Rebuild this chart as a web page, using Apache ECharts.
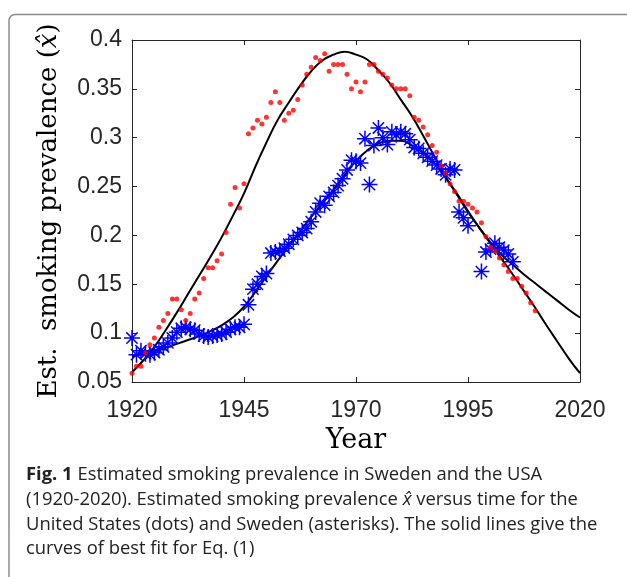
<!DOCTYPE html>
<html><head><meta charset="utf-8">
<script src="https://cdn.jsdelivr.net/npm/echarts@6/dist/echarts.min.js"></script>
<style>html,body{margin:0;padding:0;background:#fff}#c{width:627px;height:577px}</style>
</head><body><div id="c"></div>
<script>
// USA (dots)
const usaYears = [1920,1921,1922,1923,1924,1925,1926,1927,1928,1929,1930,1931,1932,1933,1934,1935,1936,1937,1938,1939,
  1940,1941,1942,1943,1944,1945,1946,1947,1948,1949,1950,1951,1952,1953,1954,1955,1956,1957,1958,1959,
  1960,1961,1962,1963,1964,1965,1966,1967,1968,1969,1970,1971,1972,1973,1974,1975,1976,1977,1978,1979,
  1980,1981,1982,1983,1984,1985,1986,1987,1988,1989,1990,1991,1992,1993,1994,1995,1996,1997,1998,1999,
  2000,2001,2002,2003,2004,2005,2006,2007,2008,2009,2010];
const usaValues = [0.059,0.066,0.066,0.080,0.088,0.095,0.106,0.113,0.120,0.135,0.135,0.124,0.113,0.120,0.135,0.141,0.156,0.167,0.167,0.174,
  0.181,0.203,0.232,0.249,0.228,0.253,0.304,0.310,0.318,0.314,0.321,0.336,0.347,0.336,0.318,0.325,0.328,0.339,0.354,0.365,
  0.372,0.382,0.379,0.386,0.368,0.375,0.375,0.375,0.365,0.350,0.357,0.347,0.357,0.375,0.375,0.368,0.365,0.361,0.354,0.350,
  0.350,0.350,0.343,0.321,0.318,0.311,0.303,0.292,0.285,0.271,0.264,0.253,0.245,0.235,0.235,0.232,0.228,0.224,0.213,0.199,
  0.188,0.184,0.177,0.170,0.163,0.156,0.156,0.148,0.141,0.131,0.123];
// Sweden (asterisks)
const swedenYears = [1920,1921,1922,1923,1924,1925,1926,1927,1928,1929,1930,1931,1932,1933,1934,1935,1936,1937,1938,1939,
  1940,1941,1942,1943,1944,1945,1946,1947,1948,1949,1950,1951,1952,1953,1954,1955,1956,1957,1958,1959,
  1960,1961,1962,1963,1964,1965,1966,1967,1968,1969,1970,1971,1972,1973,1974,1975,1976,1977,1978,1979,
  1980,1981,1982,1983,1984,1985,1986,1987,1988,1989,1990,1991,1992,1993,1994,1995,1998,1999,
  2000,2001,2002,2003,2004,2005];
const swedenValues = [0.095,0.078,0.082,0.079,0.078,0.080,0.083,0.086,0.090,0.095,0.101,0.105,0.106,0.104,0.103,0.099,0.097,0.096,0.097,0.098,
  0.099,0.101,0.104,0.106,0.106,0.109,0.129,0.145,0.150,0.158,0.161,0.182,0.183,0.184,0.187,0.191,0.196,0.200,0.203,0.207,
  0.214,0.224,0.233,0.231,0.240,0.244,0.251,0.258,0.267,0.277,0.276,0.274,0.299,0.252,0.292,0.310,0.300,0.293,0.306,0.303,
  0.306,0.304,0.298,0.290,0.289,0.284,0.280,0.276,0.272,0.268,0.262,0.268,0.267,0.224,0.218,0.210,0.163,0.183,
  0.186,0.192,0.188,0.185,0.181,0.173];
// Fitted curves (read every 2.5 years)
const fitYears = [1920,1922.5,1925,1927.5,1930,1932.5,1935,1937.5,1940,1942.5,1945,1947.5,1950,1952.5,1955,1957.5,1960,1962.5,1965,1967.5,
  1970,1972.5,1975,1977.5,1980,1982.5,1985,1987.5,1990,1992.5,1995,1997.5,2000,2002.5,2005,2007.5,2010,2012.5,2015,2017.5,2020];
const usaFit = [0.060,0.072,0.086,0.103,0.121,0.140,0.159,0.178,0.198,0.220,0.243,0.270,0.295,0.318,0.336,0.353,0.368,0.379,0.385,0.388,
  0.385,0.380,0.369,0.356,0.339,0.322,0.302,0.281,0.260,0.243,0.225,0.208,0.192,0.176,0.160,0.143,0.126,0.108,0.091,0.074,0.059];
const swedenFit = [0.076,0.079,0.082,0.085,0.089,0.093,0.097,0.102,0.108,0.116,0.127,0.142,0.158,0.174,0.189,0.204,0.219,0.233,0.247,0.262,
  0.276,0.287,0.294,0.297,0.297,0.292,0.285,0.274,0.259,0.242,0.224,0.208,0.193,0.180,0.170,0.160,0.151,0.142,0.133,0.124,0.116];
const xTicks = [1920,1945,1970,1995,2020];
const yTicks = [0.05,0.1,0.15,0.2,0.25,0.3,0.35,0.4];
const captionLines = [
  '{b|Fig. 1} Estimated smoking prevalence in Sweden and the USA',
  '(1920-2020). Estimated smoking prevalence {i|x\u0302} versus time for the',
  'United States (dots) and Sweden (asterisks). The solid lines give the',
  'curves of best fit for Eq. (1)'
];

const pair = (xs, ys) => xs.map((x, i) => [x, ys[i]]);
const axisColor = '#262626';
const tickFont = 'Liberation Sans, Arial, sans-serif';
const serif = 'DejaVu Serif, serif';
const capFont = 'Open Sans, sans-serif';
const capSize = 18.4;

const baseX = {
  type: 'value', min: xTicks[0], max: xTicks[xTicks.length - 1], interval: xTicks[1] - xTicks[0],
  axisLine: { show: true, onZero: false, lineStyle: { color: axisColor, width: 1 } },
  axisTick: { show: true, inside: true, length: 5, lineStyle: { color: axisColor, width: 1 } },
  splitLine: { show: false }
};
const baseY = {
  type: 'value', min: yTicks[0], max: yTicks[yTicks.length - 1], interval: 0.05,
  axisLine: { show: true, onZero: false, lineStyle: { color: axisColor, width: 1 } },
  axisTick: { show: true, inside: true, length: 5, lineStyle: { color: axisColor, width: 1 } },
  splitLine: { show: false }
};

const asterisk = 'path://M0,10L20,10M10,0L10,20M2.93,2.93L17.07,17.07M17.07,2.93L2.93,17.07';

const chart = echarts.init(document.getElementById('c'), null, { renderer: 'canvas' });
chart.setOption({
  animation: false,
  backgroundColor: '#fff',
  grid: { left: 132, top: 40, width: 448, height: 342, containLabel: false },
  xAxis: [
    Object.assign({}, baseX, {
      position: 'bottom',
      axisLabel: { show: true, fontSize: 23, color: axisColor, margin: 17, fontFamily: tickFont,
        formatter: v => String(v) },
      name: 'Year', nameLocation: 'middle', nameGap: 45,
      nameTextStyle: { fontFamily: serif, fontSize: 27, color: '#000' }
    }),
    Object.assign({}, baseX, { position: 'top', axisLabel: { show: false } })
  ],
  yAxis: [
    Object.assign({}, baseY, {
      position: 'left',
      axisLabel: { show: true, fontSize: 23, color: axisColor, margin: 10, fontFamily: tickFont },
      name: 'Est.  smoking prevalence ({i|x\u0302})', nameLocation: 'middle', nameGap: 70,
      nameTextStyle: { fontFamily: serif, fontSize: 26, color: '#000',
        rich: { i: { fontFamily: serif, fontSize: 26, fontStyle: 'italic', color: '#000' } } }
    }),
    Object.assign({}, baseY, { position: 'right', axisLabel: { show: false } })
  ],
  series: [
    { type: 'line', name: 'USA fit', data: pair(fitYears, usaFit), smooth: true, showSymbol: false,
      lineStyle: { color: '#000', width: 2 }, z: 2 },
    { type: 'line', name: 'Sweden fit', data: pair(fitYears, swedenFit), smooth: true, showSymbol: false,
      lineStyle: { color: '#000', width: 2 }, z: 2 },
    { type: 'scatter', name: 'Sweden', data: pair(swedenYears, swedenValues), symbol: asterisk, symbolSize: 16,
      itemStyle: { color: 'rgba(0,0,255,0)', borderColor: '#0000ff', borderWidth: 1.5, opacity: 1 }, z: 3 },
    { type: 'scatter', name: 'USA', data: pair(usaYears, usaValues), symbol: 'circle', symbolSize: 5,
      itemStyle: { color: '#ff0000' }, z: 4 }
  ],
  graphic: [
    { type: 'rect', shape: { x: 9, y: 14.5, width: 700, height: 700, r: 6 },
      style: { fill: 'none', stroke: '#8a8a8a', lineWidth: 1.5 }, silent: true }
  ].concat(captionLines.map((t, i) => ({
    type: 'text', left: 26, top: 466 + i * 24.7,
    style: { text: t, fontFamily: capFont, fontSize: capSize, fill: '#222',
      rich: { b: { fontWeight: 'bold', fontFamily: capFont, fontSize: capSize, fill: '#222' },
              i: { fontStyle: 'italic', fontFamily: capFont, fontSize: capSize, fill: '#222' } } }
  })))
});
</script></body></html>
